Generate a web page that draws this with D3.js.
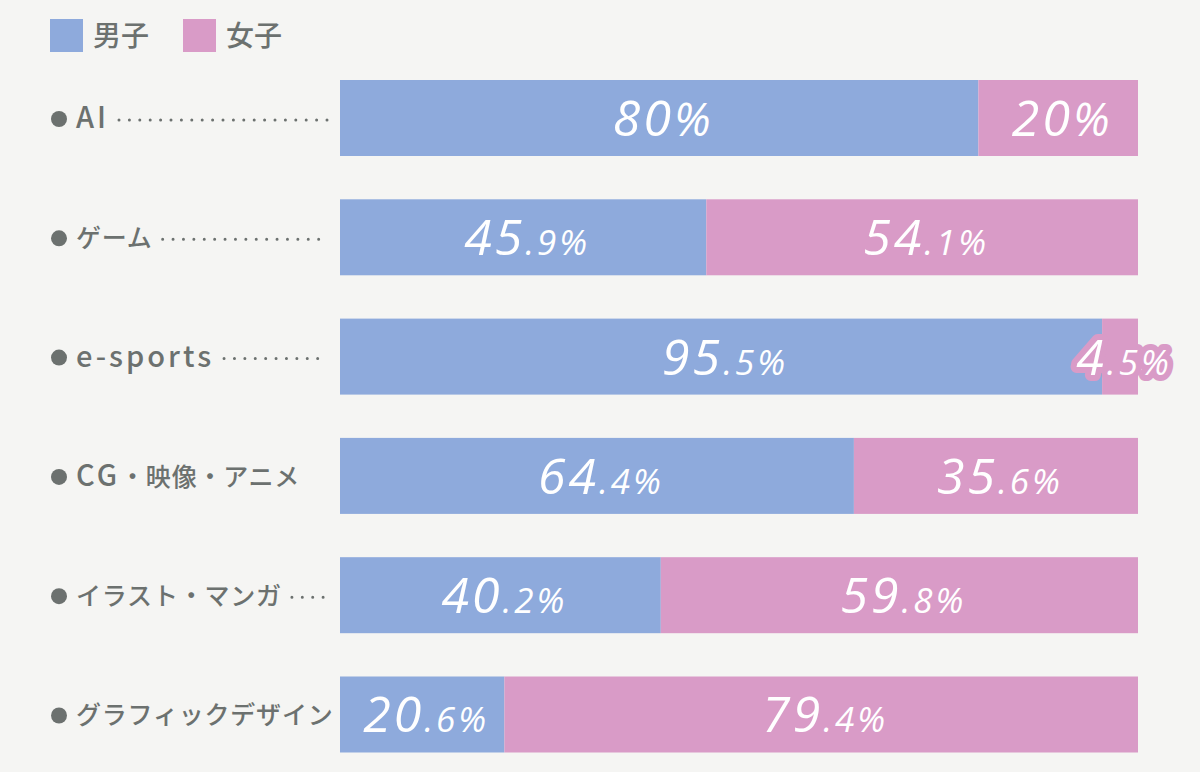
<!DOCTYPE html>
<html>
<head>
<meta charset="utf-8">
<script src="https://cdn.jsdelivr.net/npm/d3@7"></script>
<style>
  html, body { margin: 0; padding: 0; background: #f5f5f3; }
  svg { display: block; }
</style>
</head>
<body>
<svg id="chart" width="1200" height="772"></svg>
<script>
// ---- data ----
const categories = ["AI", "ゲーム", "e-sports", "CG・映像・アニメ", "イラスト・マンガ", "グラフィックデザイン"];
const seriesNames = ["男子", "女子"];
const maleValues = [80, 45.9, 95.5, 64.4, 40.2, 20.6];
const femaleValues = [20, 54.1, 4.5, 35.6, 59.8, 79.4];

const colors = { "男子": "#8eaadc", "女子": "#d99bc7" };
const textGray = "#6c716f";

const svg = d3.select("#chart");
svg.append("rect").attr("width", 1200).attr("height", 772).attr("fill", "#f5f5f3");

const rows = categories.map((c, i) => ({ cat: c, "男子": maleValues[i], "女子": femaleValues[i] }));
const stack = d3.stack().keys(seriesNames)(rows);

const x = d3.scaleLinear().domain([0, 100]).range([340, 1138]);
const step = 119.3;
const y = d3.scaleBand().domain(categories)
  .range([80 - step * 0.1815, 80 - step * 0.1815 + step * categories.length])
  .paddingInner(0.363).paddingOuter(0.1815);

// ---- legend ----
const legend = svg.append("g");
seriesNames.forEach((s, i) => {
  const lx = 50 + i * 133;
  legend.append("rect").attr("x", lx).attr("y", 19).attr("width", 33).attr("height", 33).attr("fill", colors[s]);
  legend.append("text").attr("x", lx + 43).attr("y", 46)
    .attr("font-family", "'Noto Sans CJK JP', sans-serif").attr("font-size", 28).attr("font-weight", 500)
    .attr("fill", textGray).text(s);
});

// ---- bars ----
const layers = svg.append("g").selectAll("g").data(stack).join("g").attr("fill", d => colors[d.key]);
layers.selectAll("rect").data(d => d).join("rect")
  .attr("x", d => x(d[0]))
  .attr("width", d => x(d[1]) - x(d[0]))
  .attr("y", d => y(d.data.cat))
  .attr("height", y.bandwidth());

// ---- value labels ----
function splitValue(v) {
  const s = String(v);
  const idx = s.indexOf(".");
  if (idx < 0) return [s, "%", false];
  return [s.slice(0, idx), s.slice(idx) + "%", true];
}
const labelsG = svg.append("g");
stack.forEach(layer => {
  layer.forEach(d => {
    const v = d.data[layer.key];
    const cx = (x(d[0]) + x(d[1])) / 2 + 4;
    const cy = y(d.data.cat) + y.bandwidth() / 2 + 18;
    const [big, small, hasDec] = splitValue(v);
    const t = labelsG.append("text")
      .attr("x", cx).attr("y", cy).attr("text-anchor", "middle")
      .attr("font-family", "'Open Sans', 'Noto Sans', sans-serif")
      .attr("font-style", "italic").attr("font-weight", 500)
      .attr("letter-spacing", 3)
      .attr("fill", "#ffffff");
    if (v < 10) {
      t.attr("stroke", colors[layer.key]).attr("stroke-width", 12)
        .attr("stroke-linejoin", "round").attr("paint-order", "stroke");
    }
    t.append("tspan").attr("font-size", 50).text(big);
    t.append("tspan").attr("font-size", hasDec ? 35 : 46).text(small);
  });
});

// ---- category labels ----
const catG = svg.append("g");
categories.forEach(c => {
  const cy = y(c) + y.bandwidth() / 2;
  catG.append("circle").attr("cx", 59).attr("cy", cy + 1).attr("r", 8).attr("fill", textGray);
  const t = catG.append("text").attr("x", 76).attr("y", cy + 10)
    .attr("font-family", "'Noto Sans CJK JP', sans-serif").attr("font-weight", 500)
    .attr("fill", textGray);
  // split into Latin and non-Latin runs so Latin letters can be larger
  const runs = c.match(/[A-Za-z\-]+|[^A-Za-z\-]+/g);
  runs.forEach(r => {
    const latin = /[A-Za-z]/.test(r);
    t.append("tspan")
      .attr("font-size", latin ? 29 : 25)
      .attr("letter-spacing", latin ? 3 : 0.8)
      .text(r);
  });
  const end = 76 + t.node().getComputedTextLength();
  const startDots = end + 10;
  const endDots = 328;
  if (endDots - startDots > 22) {
    catG.append("line")
      .attr("x1", startDots).attr("x2", endDots)
      .attr("y1", cy + 2).attr("y2", cy + 2)
      .attr("stroke", textGray).attr("stroke-width", 3)
      .attr("stroke-linecap", "round").attr("stroke-dasharray", "0 10.4");
  }
});
</script>
</body>
</html>
